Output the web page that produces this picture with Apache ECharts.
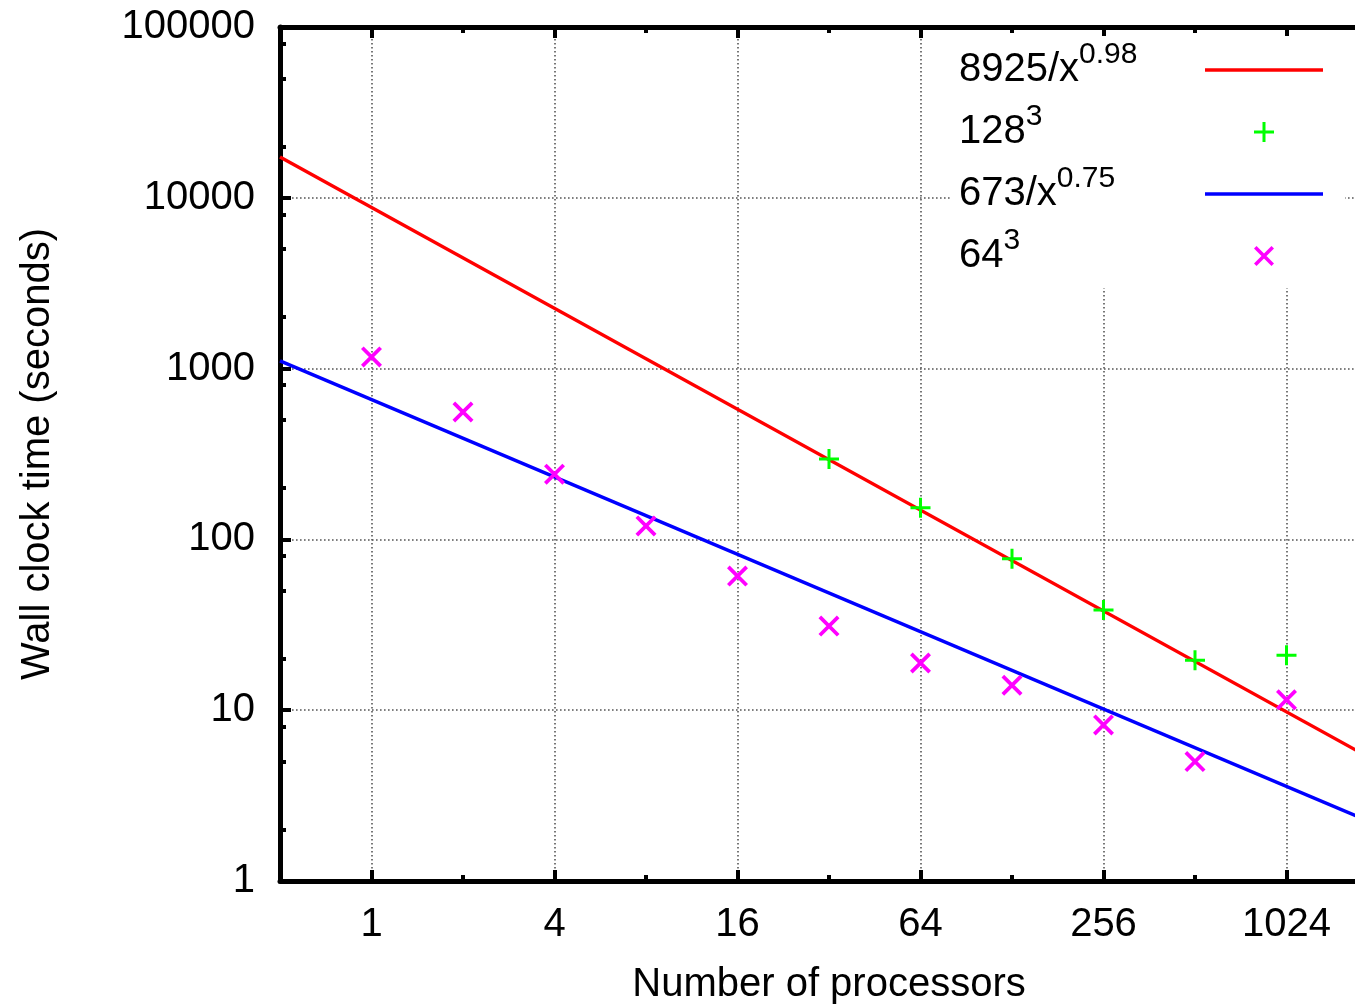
<!DOCTYPE html>
<html>
<head>
<meta charset="utf-8">
<script src="https://cdn.jsdelivr.net/npm/echarts@6/dist/echarts.min.js"></script>
<style>
  html, body { margin: 0; padding: 0; background: #fff; }
  #chart { width: 1355px; height: 1006px; }
</style>
</head>
<body>
<div id="chart"></div>
<script>
// processors on the x axis
const procs = [1, 2, 4, 8, 16, 32, 64, 128, 256, 512, 1024];
const procs128 = [32, 64, 128, 256, 512, 1024];

// measured wall clock times (seconds)
const time128 = [296, 153, 77, 38.6, 19.6, 21];
const time64 = [1170, 557, 241, 120, 61, 31.1, 18.9, 14, 8.2, 5, 11.5];

// fitted lines, read at the left and right edge of the plot
const fitX = [0.5, 1743];
const fitRed = [17340, 5.8];
const fitBlue = [1110, 2.4];

// tick values
const xMinorTicks = [2, 8, 32, 128, 512];
const yMinorTicks = [2, 5, 8, 20, 50, 80, 200, 500, 800, 2000, 5000, 8000, 20000, 50000, 80000];

const names = ['8925/x^0.98', '128^3', '673/x^0.75', '64^3'];

const FONT = 'Liberation Sans';
const plusPath = 'path://M8.5,0h3v8.5h8.5v3h-8.5v8.5h-3v-8.5h-8.5v-3h8.5z';
const crossPath = 'path://M2.3,-0.3L20.3,17.7L17.7,20.3L-0.3,2.3Z M20.3,2.3L2.3,20.3L-0.3,17.7L17.7,-0.3Z';
const linePath = 'path://M0,8.25h118v3.5h-118z';

const pair = (xs, ys) => xs.map((x, i) => [x, ys[i]]);
const plain = (v) => String(v);

const frameLine = { show: true, lineStyle: { color: '#000', width: 5 } };
const gridDots = { show: true, lineStyle: { color: '#555', width: 1.6, type: [1.6, 2.4] } };

const xBase = { type: 'log', logBase: 4, min: 0.5, max: 2048, gridIndex: 0 };
const yBase = { type: 'log', logBase: 10, min: 1, max: 100000, gridIndex: 0 };

const chart = echarts.init(document.getElementById('chart'));
chart.setOption({
  animation: false,
  backgroundColor: '#fff',
  textStyle: { fontFamily: FONT },
  grid: { left: 280, width: 1098, top: 27, height: 854, containLabel: false, outerBoundsMode: 'none' },
  legend: {
    orient: 'vertical',
    align: 'right',
    left: 950,
    top: 36,
    padding: [4, 22, 2, 9],
    backgroundColor: '#fff',
    itemWidth: 118,
    itemHeight: 20,
    itemGap: 2,
    selectedMode: false,
    data: [
      { name: names[0], icon: linePath },
      { name: names[1] },
      { name: names[2], icon: linePath },
      { name: names[3] }
    ],
    formatter: (n) => {
      const p = n.split('^');
      return '{a|' + p[0] + '}{s|' + p[1] + '}';
    },
    textStyle: {
      width: 241,
      color: '#000',
      fontFamily: FONT,
      fontSize: 40,
      rich: {
        a: { fontFamily: FONT, fontSize: 40, lineHeight: 40, align: 'left', color: '#000' },
        s: { fontFamily: FONT, fontSize: 30, lineHeight: 20, align: 'left', color: '#000', padding: [0, 0, 30, 0] }
      }
    }
  },
  xAxis: [
    Object.assign({}, xBase, {
      position: 'bottom',
      name: 'Number of processors',
      nameLocation: 'middle',
      nameGap: 84,
      nameTextStyle: { fontFamily: FONT, fontSize: 40, color: '#000' },
      axisLine: frameLine,
      axisTick: { show: true, inside: true, length: 11, lineStyle: { color: '#000', width: 4 } },
      axisLabel: { fontFamily: FONT, fontSize: 40, color: '#000', margin: 24, showMinLabel: false, showMaxLabel: false, formatter: plain },
      splitLine: gridDots,
      minorTick: { show: false }
    }),
    Object.assign({}, xBase, {
      position: 'bottom',
      axisLine: { show: false },
      axisTick: { show: true, inside: true, length: 6, customValues: xMinorTicks, lineStyle: { color: '#000', width: 4 } },
      axisLabel: { show: false },
      splitLine: { show: false }
    }),
    Object.assign({}, xBase, {
      position: 'top',
      axisLine: frameLine,
      axisTick: { show: true, inside: true, length: 11, lineStyle: { color: '#000', width: 4 } },
      axisLabel: { show: false },
      splitLine: { show: false }
    }),
    Object.assign({}, xBase, {
      position: 'top',
      axisLine: { show: false },
      axisTick: { show: true, inside: true, length: 6, customValues: xMinorTicks, lineStyle: { color: '#000', width: 4 } },
      axisLabel: { show: false },
      splitLine: { show: false }
    })
  ],
  yAxis: [
    Object.assign({}, yBase, {
      position: 'left',
      name: 'Wall clock time (seconds)',
      nameLocation: 'middle',
      nameGap: 222,
      nameTextStyle: { fontFamily: FONT, fontSize: 40, color: '#000' },
      axisLine: frameLine,
      axisTick: { show: true, inside: true, length: 11, lineStyle: { color: '#000', width: 4 } },
      axisLabel: { fontFamily: FONT, fontSize: 40, color: '#000', margin: 25, formatter: plain },
      splitLine: gridDots
    }),
    Object.assign({}, yBase, {
      position: 'left',
      axisLine: { show: false },
      axisTick: { show: true, inside: true, length: 6, customValues: yMinorTicks, lineStyle: { color: '#000', width: 4 } },
      axisLabel: { show: false },
      splitLine: { show: false }
    })
  ],
  series: [
    {
      name: names[0],
      type: 'line',
      xAxisIndex: 0, yAxisIndex: 0,
      symbol: 'none',
      lineStyle: { color: '#ff0000', width: 3.4 },
      itemStyle: { color: '#ff0000' },
      data: pair(fitX, fitRed),
      z: 3
    },
    {
      name: names[1],
      type: 'scatter',
      xAxisIndex: 0, yAxisIndex: 0,
      symbol: plusPath,
      symbolSize: 20,
      itemStyle: { color: '#00ff00', opacity: 1 },
      data: pair(procs128, time128),
      z: 4
    },
    {
      name: names[2],
      type: 'line',
      xAxisIndex: 0, yAxisIndex: 0,
      symbol: 'none',
      lineStyle: { color: '#0000ff', width: 3.4 },
      itemStyle: { color: '#0000ff' },
      data: pair(fitX, fitBlue),
      z: 3
    },
    {
      name: names[3],
      type: 'scatter',
      xAxisIndex: 0, yAxisIndex: 0,
      symbol: crossPath,
      symbolSize: 21,
      itemStyle: { color: '#ff00ff', opacity: 1 },
      data: pair(procs, time64),
      z: 5
    }
  ]
});
</script>
</body>
</html>
